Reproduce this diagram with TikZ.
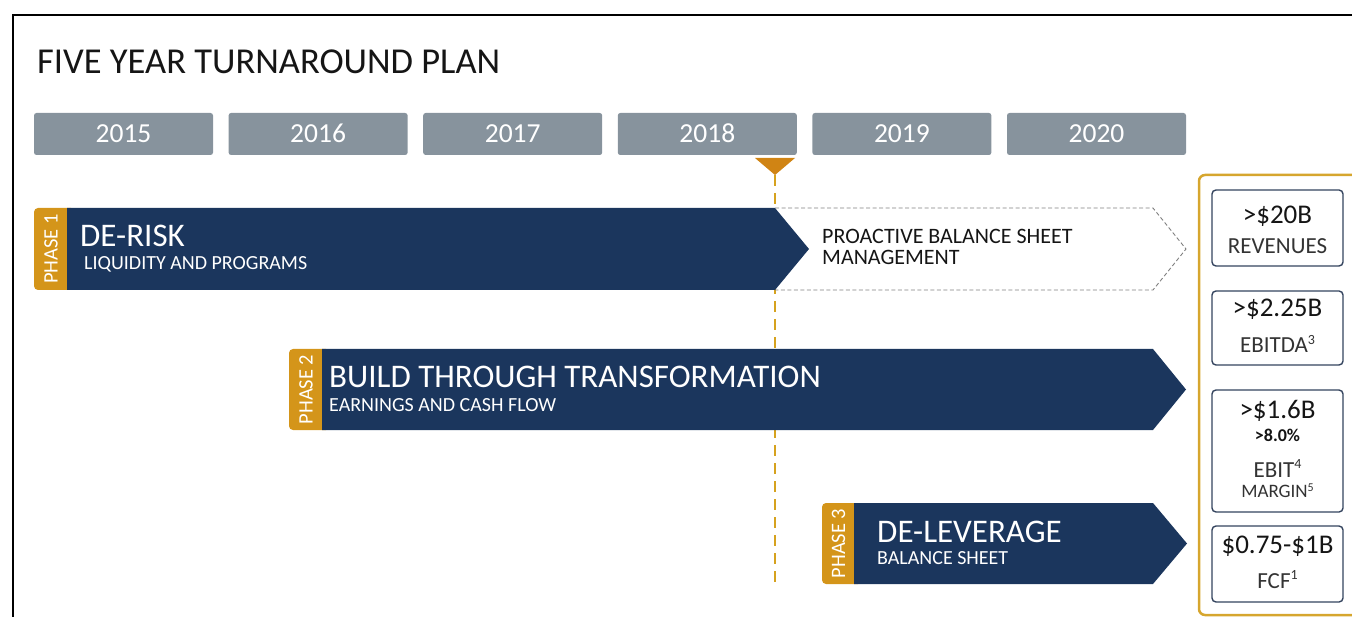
\documentclass[tikz,border=0pt]{standalone}
\usepackage{fontspec}
\setmainfont{Carlito}
\begin{document}
\definecolor{navy}{HTML}{1B365D}
\definecolor{tabgold}{HTML}{D4951A}
\definecolor{markorange}{HTML}{D08414}
\definecolor{linegold}{HTML}{D6A21E}
\definecolor{framegold}{HTML}{D6A62E}
\definecolor{yeargray}{HTML}{87939D}
\definecolor{boxline}{HTML}{34445E}
\definecolor{ink}{HTML}{151515}
\definecolor{labelink}{HTML}{333333}
\newcommand{\fsz}[1]{\fontsize{#1}{#1}\selectfont}
% footnote marks: small and only slightly raised
\newcommand{\notemark}[1]{\raisebox{0.38em}{\fsz{14}#1}}
\begin{tikzpicture}[x=1pt,y=-1pt,
  yearbox/.style={fill=yeargray, rounded corners=2.5},
  yeartext/.style={text=white, font=\fsz{27.5}, anchor=base, inner sep=0},
  headtext/.style={text=white, font=\fsz{33}, anchor=base west, inner sep=0},
  subtext/.style={text=white, font=\fsz{20}, anchor=base west, inner sep=0},
  phasetext/.style={text=white, font=\fsz{20.5}, rotate=90, inner sep=0},
  metricbox/.style={draw=boxline, line width=1.4, fill=white, rounded corners=4},
  bigfig/.style={text=ink, font=\fsz{27}, anchor=base, inner sep=0},
  smallfig/.style={text=ink, font=\bfseries\fsz{18}, anchor=base, inner sep=0},
  figlabel/.style={text=labelink, font=\fsz{23}, anchor=base, inner sep=0},
  minilabel/.style={text=labelink, font=\fsz{19}, anchor=base, inner sep=0}]
\useasboundingbox (0,0) rectangle (1352,617);
\clip (0,0) rectangle (1352,617);

% outer frame
\draw[line width=2] (13,640) -- (13,15) -- (1380,15);

% title
\node[anchor=base west, inner sep=0, text=ink, font=\fsz{36.5}] (title) at (37,74) {FIVE YEAR TURNAROUND PLAN};

% year strip
\foreach \yr [count=\i from 0] in {2015,2016,2017,2018,2019,2020}{
  \fill[yearbox] ({34+194.6*\i},113) rectangle ({213+194.6*\i},155);
  \node[yeartext] (y\yr) at ({123.5+194.6*\i},143) {\yr};
}

% current-year marker and its dashed guide
\fill[markorange] (755,158) -- (795,158) -- (775,175) -- cycle;
\coordinate (marktip) at (775,175);
\coordinate (markend) at (775,584);
\draw[linegold, line width=2.2, dash pattern=on 11 off 7] (marktip) -- (markend);

% outlined continuation of phase 1
\draw[gray, line width=0.9, dash pattern=on 4 off 2.5] (775,208) -- (1153,208) -- (1186,249) -- (1153,290) -- (775,290);
\node[anchor=base west, inner sep=0, text=ink, font=\fsz{22}] (proactive) at (822,244) {PROACTIVE BALANCE SHEET};
\node[anchor=base west, inner sep=0, text=ink, font=\fsz{22}] (management) at (822,265) {MANAGEMENT};

% phase 1
\fill[tabgold, rounded corners=4] (34,208) rectangle (75,290);
\fill[navy] (67,208) -- (775,208) -- (809,249) -- (775,290) -- (67,290) -- cycle;
\node[phasetext] (p1) at (51,249) {PHASE 1};
\node[headtext] (derisk) at (80,247) {DE-RISK};
\node[subtext] (liquidity) at (84,270) {LIQUIDITY AND PROGRAMS};

% phase 2
\fill[tabgold, rounded corners=4] (289,349) rectangle (330,430);
\fill[navy] (322,349) -- (1153,349) -- (1186,389.5) -- (1153,430) -- (322,430) -- cycle;
\node[phasetext] (p2) at (306,389.5) {PHASE 2};
\node[headtext] (build) at (329,388) {BUILD THROUGH TRANSFORMATION};
\node[subtext] (earnings) at (329,411) {EARNINGS AND CASH FLOW};

% phase 3
\fill[tabgold, rounded corners=4] (822,503) rectangle (862,584);
\fill[navy] (854,503) -- (1153,503) -- (1187,543.5) -- (1153,584) -- (854,584) -- cycle;
\node[phasetext] (p3) at (838.5,543.5) {PHASE 3};
\node[headtext] (delever) at (877,542) {DE-LEVERAGE};
\node[subtext] (balance) at (877,564) {BALANCE SHEET};

% targets panel
\draw[framegold, line width=2.5, rounded corners=6] (1199,175) rectangle (1380,615);
\draw[metricbox] (1212,190) rectangle (1343,266);
\draw[metricbox] (1212,291) rectangle (1343,365);
\draw[metricbox] (1212,390) rectangle (1343,512);
\draw[metricbox] (1212,526) rectangle (1343,602);

\node[bigfig] (rev) at (1277.5,224) {>\$20B};
\node[figlabel] (revl) at (1277.5,254) {REVENUES};
\node[bigfig] (ebitda) at (1277.5,317) {>\$2.25B};
\node[figlabel] (ebitdal) at (1277.5,353) {EBITDA\notemark{3}};
\node[bigfig] (ebit) at (1277.5,418) {>\$1.6B};
\node[smallfig] (margin) at (1277.5,442) {>8.0\%};
\node[figlabel] (ebitl) at (1277.5,477) {EBIT\notemark{4}};
\node[minilabel] (marginl) at (1277.5,497) {MARGIN\raisebox{0.3em}{\fsz{12}5}};
\node[bigfig] (fcf) at (1277.5,553) {\$0.75-\$1B};
\node[figlabel] (fcfl) at (1277.5,588) {FCF\notemark{1}};
\end{tikzpicture}
\end{document}
